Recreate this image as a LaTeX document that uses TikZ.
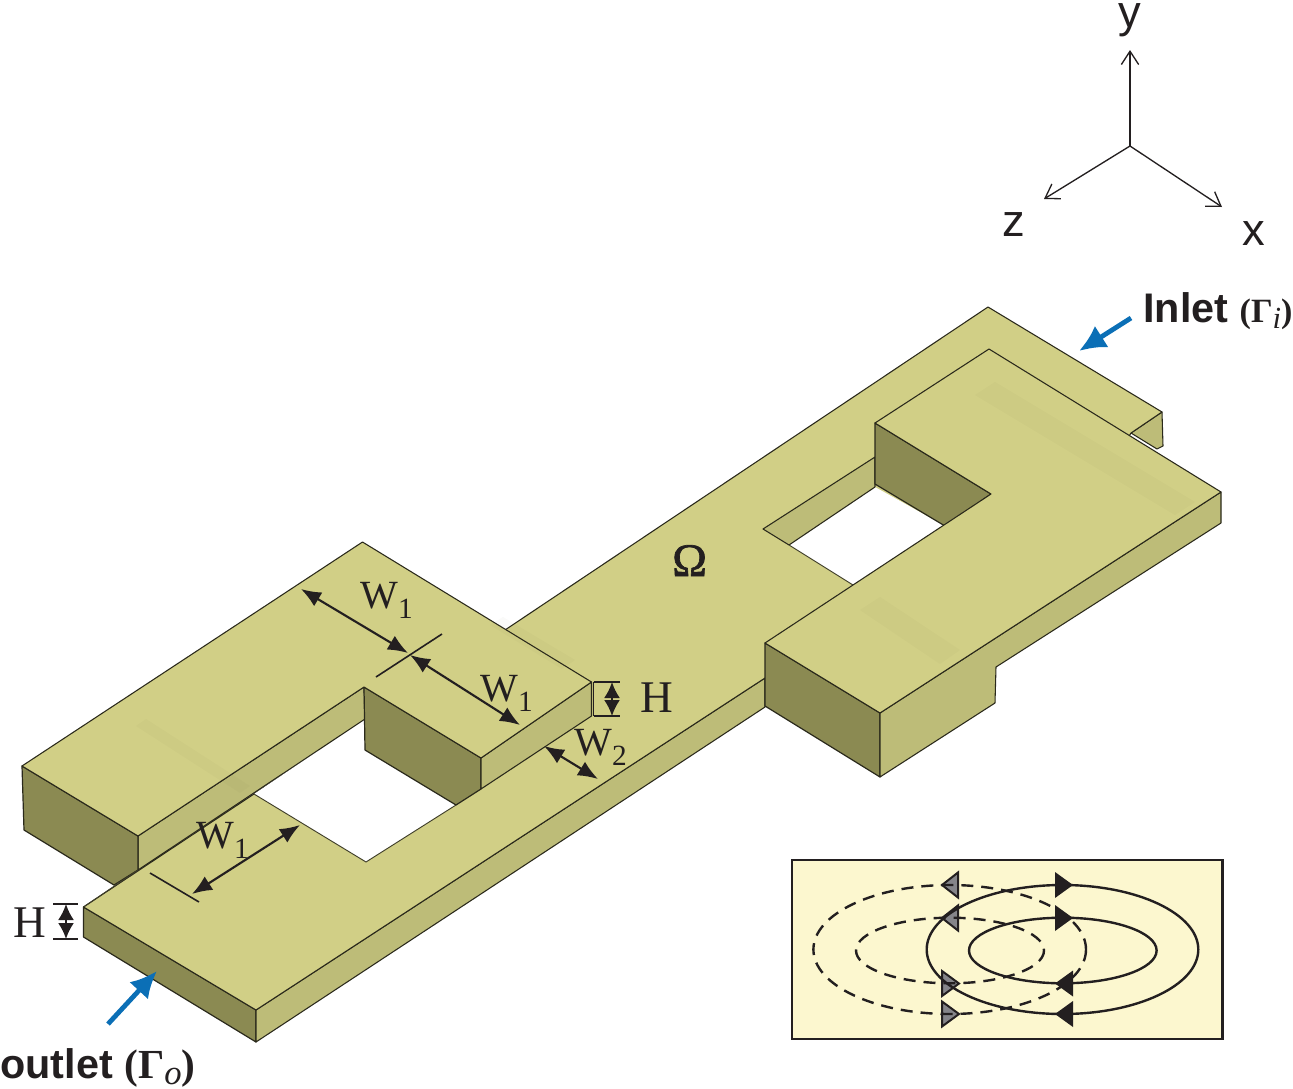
\documentclass[tikz,border=0pt]{standalone}
\usepackage{fontspec}
\setmainfont{Liberation Serif}
\setsansfont{Liberation Sans}
\newfontfamily\semifont[FakeBold=1.4]{Liberation Serif}
\usetikzlibrary{arrows.meta}
\usetikzlibrary{positioning}

\definecolor{topcol}{HTML}{D1CF86}
\definecolor{sidecol}{HTML}{BDBC78}
\definecolor{darkcol}{HTML}{8B8A52}
\definecolor{insetcol}{HTML}{FCF7CF}
\definecolor{arrowcol}{HTML}{0B6FB6}
\definecolor{triacol}{HTML}{85858A}
\definecolor{inkcol}{HTML}{231F20}

\newcommand{\dimtxt}[2]{#1\raisebox{-8pt}{\fontsize{22}{24}\selectfont #2}}

\tikzset{
	topface/.style={fill=topcol,draw=black!80!topcol,line width=.8pt,line join=round},
	sideface/.style={fill=sidecol,draw=black!80!topcol,line width=.8pt,line join=round},
	darkface/.style={fill=darkcol,draw=black!80!topcol,line width=.9pt,line join=round},
	edgeline/.style={draw=black!70!topcol,line width=.7pt},
	faintband/.style={fill=black!60!topcol,fill opacity=.03},
	dimline/.style={draw=inkcol,line width=1.6pt,{Latex[length=15pt,width=12pt]}-{Latex[length=15pt,width=12pt]}},
	tickline/.style={draw=inkcol,line width=1.2pt},
	axisline/.style={draw=inkcol,line width=1pt,-{Straight Barb[length=10pt,width=13pt,line width=1pt]}},
	flowline/.style={draw=arrowcol,line width=3.6pt,-{Latex[length=20pt,width=19pt]}},
	dimlabel/.style={anchor=base west,inner sep=0pt,text=inkcol,font=\fontsize{30}{32}\selectfont},
	axislabel/.style={anchor=base,inner sep=0pt,text=inkcol,font=\sffamily\fontsize{34}{36}\selectfont},
	portlabel/.style={anchor=base west,inner sep=0pt,text=inkcol,font=\sffamily\bfseries\fontsize{31}{33}\selectfont},
	fieldline/.style={draw=inkcol,line width=1.8pt},
}

\begin{document}
\begin{tikzpicture}[x=.75pt,y=-.75pt]
	\useasboundingbox (0,0) rectangle (1293,1089);

	% axes
	\coordinate (origin) at (1130,146);
	\coordinate (yend) at (1130,50);
	\coordinate (zend) at (1044,199);
	\coordinate (xend) at (1222,207);
	\draw[axisline] (origin) -- (yend);
	\draw[axisline] (origin) -- (zend);
	\draw[axisline] (origin) -- (xend);
	\node[axislabel] (ylab) at (1130,27) {y};
	\node[axislabel] (zlab) at (1014,236) {z};
	\node[axislabel] (xlab) at (1254,245) {x};

	% plate
	\draw[darkface] (83.5,907) -- (256,1010) -- (256,1042) -- (83.5,937) -- cycle;
	\draw[sideface] (256,1010) -- (765,678) -- (765,707) -- (256,1042) -- cycle;
	\draw[sideface] (1131,433) -- (1162,412) -- (1163,446) -- (1157,449) -- cycle;
	\draw[topface] (83.5,907) -- (254,794) -- (505,630) -- (988,307) -- (1162,412) -- (1131,433) -- (1000,640) -- (765,678) -- (256,1010) -- cycle;

	% left hole and block
	\fill[white] (365,719) -- (365,750) -- (456,805) -- (366,862) -- (254,794) -- cycle;
	\draw[edgeline] (254,794) -- (366,862) -- (456,805);
	\draw[sideface] (364,687) -- (138,836) -- (138,870) -- (365,719) -- cycle;
	\draw[darkface] (22,766) -- (138,836) -- (138,870) -- (114,885) -- (24,830) -- cycle;
	\draw[darkface] (364,687) -- (481,758) -- (481,789) -- (456,805) -- (365,750) -- cycle;
	\draw[sideface] (481,758) -- (591.5,682) -- (591.5,716) -- (481,789) -- cycle;
	\draw[topface] (22,766) -- (362.5,542) -- (591.5,682) -- (481,758) -- (364,687) -- (138,836) -- cycle;
	\draw[edgeline] (83.5,907) -- (138,870);
	\fill[faintband] (136,726) -- (146,719) -- (250,786) -- (240,793) -- cycle;
	\fill[faintband] (490,625) -- (503,617) -- (575,660) -- (562,669) -- cycle;

	% right hole and block
	\fill[white] (789,545) -- (875,487) -- (945,526) -- (853,585) -- cycle;
	\draw[sideface] (763,529) -- (875,457) -- (875,487) -- (789,545) -- cycle;
	\draw[darkface] (875,423) -- (991,494) -- (945,526) -- (875,484) -- cycle;
	\draw[edgeline] (789,545) -- (853,585);
	\draw[darkface] (765,643) -- (880,713) -- (880,777) -- (765,706) -- cycle;
	\draw[sideface] (880,713) -- (1221,492) -- (1221,523) -- (996,667) -- (995,703) -- (880,777) -- cycle;
	\draw[topface] (765,643) -- (880,713) -- (1221,492) -- (989,349) -- (875,423) -- (991,494) -- (853,585) -- cycle;
	\fill[faintband] (860,610) -- (880,597) -- (960,650) -- (940,664) -- cycle;
	\fill[faintband] (995,382) -- (1195,502) -- (1175,515) -- (975,395) -- cycle;

	% dimensions
	\coordinate (wa_start) at (301,589);
	\coordinate (wa_end) at (408,653);
	\coordinate (wb_start) at (410,655);
	\coordinate (wb_end) at (520,725);
	\coordinate (tick_a) at (442,634);
	\coordinate (tick_b) at (376,677);
	\draw[dimline] (wa_start) -- (wa_end);
	\draw[dimline] (wb_start) -- (wb_end);
	\draw[tickline] (tick_a) -- (tick_b);
	\coordinate (wc_start) at (300,825);
	\coordinate (wc_end) at (192,894);
	\coordinate (tick_c) at (150,873);
	\coordinate (tick_d) at (199,902);
	\draw[dimline] (wc_start) -- (wc_end);
	\draw[tickline] (tick_c) -- (tick_d);
	\coordinate (wd_start) at (544,746);
	\coordinate (wd_end) at (598,779);
	\draw[dimline] (wd_start) -- (wd_end);

	\coordinate (ha_top) at (612,682);
	\coordinate (ha_bot) at (612,716);
	\draw[dimline,{Latex[length=12pt,width=12pt]}-{Latex[length=12pt,width=12pt]}] (ha_top) -- (ha_bot);
	\draw[tickline] (593.5,682) -- (620,682);
	\draw[tickline] (593.5,716) -- (620,716);
	\draw[tickline] (593.5,682) -- (593.5,716);
	\coordinate (hb_top) at (66,904);
	\coordinate (hb_bot) at (66,939);
	\draw[dimline,{Latex[length=12pt,width=12pt]}-{Latex[length=12pt,width=12pt]}] (hb_top) -- (hb_bot);
	\draw[tickline] (53,904) -- (78,904);
	\draw[tickline] (53,939) -- (78,939);

	\node[dimlabel] (wa_lab) at (360,608) {\dimtxt{W}{1}};
	\node[dimlabel] (wb_lab) at (480,701) {\dimtxt{W}{1}};
	\node[dimlabel] (wc_lab) at (196,848) {\dimtxt{W}{1}};
	\node[dimlabel] (wd_lab) at (574,755) {\dimtxt{W}{2}};
	\node[dimlabel,font=\fontsize{34}{36}\selectfont] (ha_lab) at (640,712) {H};
	\node[dimlabel,font=\fontsize{34}{36}\selectfont] (hb_lab) at (13,937) {H};
	\node[dimlabel,font=\semifont\fontsize{35}{37}\selectfont] (omega_lab) at (672,576) {Ω};

	% ports
	\coordinate (inlet_tail) at (1131,318);
	\coordinate (inlet_tip) at (1079,351);
	\coordinate (outlet_tail) at (108,1024);
	\coordinate (outlet_tip) at (157,971);
	\draw[flowline] (inlet_tail) -- (inlet_tip);
	\draw[flowline] (outlet_tail) -- (outlet_tip);
	\node[portlabel] (inlet_lab) at (1143,322) {Inlet {\rmfamily\fontsize{25.5}{28}\selectfont (Γ\raisebox{-5pt}{\mdseries\fontsize{23}{25}\selectfont\itshape i})}};
	\node[portlabel] (outlet_lab) at (0,1078) {outlet {\rmfamily\fontsize{31}{33}\selectfont (Γ\raisebox{-5pt}{\mdseries\fontsize{26}{28}\selectfont\itshape o})}};

	% inset
	\draw[fill=insetcol,draw=inkcol,line width=1.6pt] (792,860) rectangle (1222.5,1039);
	\foreach \y in {885,918} {
		\draw[fill=triacol,draw=inkcol,line width=1.5pt,line join=miter] (942,\y) -- (958,\y-12.5) -- (958,\y+12.5) -- cycle;
	}
	\foreach \y in {983.5,1014} {
		\draw[fill=triacol,draw=inkcol,line width=1.5pt,line join=miter] (959,\y) -- (942,\y-12.5) -- (942,\y+12.5) -- cycle;
	}
	\draw[fieldline,dash pattern=on 9pt off 6pt] (949.7,949.5) ellipse (136.3 and 64.5);
	\draw[fieldline,dash pattern=on 9pt off 6pt] (950,950.5) ellipse (94 and 32.8);
	\draw[fieldline] (1062.5,949.5) ellipse (135.8 and 64.5);
	\draw[fieldline] (1062.8,950.5) ellipse (93.8 and 32.8);
	\foreach \y in {885,918} {
		\fill[inkcol] (1073,\y) -- (1055,\y-13) -- (1055,\y+13) -- cycle;
	}
	\foreach \y in {983.5,1014} {
		\fill[inkcol] (1055,\y) -- (1073,\y-13) -- (1073,\y+13) -- cycle;
	}
\end{tikzpicture}
\end{document}
